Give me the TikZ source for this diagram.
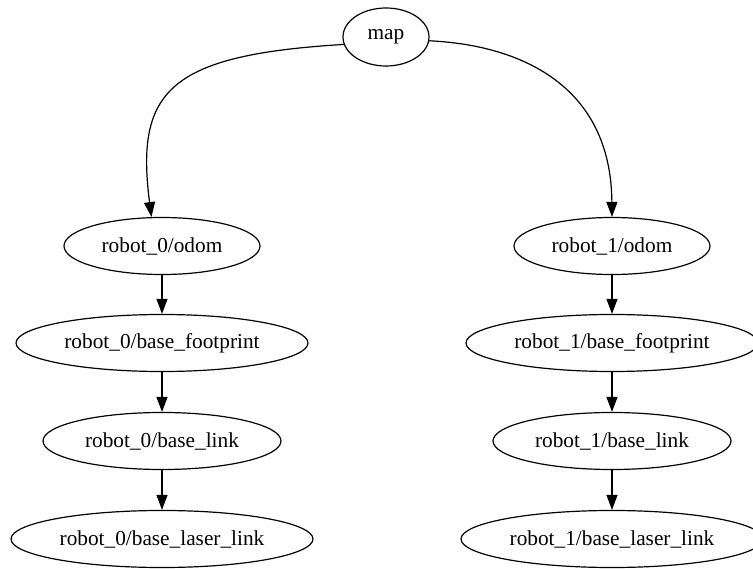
\documentclass[tikz,border=0pt]{standalone}
\usepackage{fontspec}
\setmainfont{Liberation Serif}
\usetikzlibrary{shapes.geometric,arrows.meta}
\begin{document}
\begin{tikzpicture}[x=1pt,y=1pt,
  frame/.style={ellipse,draw,line width=1.2pt,inner sep=0pt,minimum height=57pt,
    font=\fontsize{21.3}{24}\selectfont},
  link/.style={line width=1.2pt,-{Triangle[length=15pt,width=11pt]}}]
\useasboundingbox (0,0) rectangle (753,-569);
\node[frame,minimum width=86pt,minimum height=58pt] (map) at (386,-37) {map};
% left column
\node[frame,minimum width=196pt] (r0odom) at (162,-246) {robot\_0/odom};
\node[frame,minimum width=292pt] (r0fp) at (162,-343) {robot\_0/base\_footprint};
\node[frame,minimum width=238pt] (r0bl) at (162,-441) {robot\_0/base\_link};
\node[frame,minimum width=302pt] (r0ll) at (162,-539) {robot\_0/base\_laser\_link};
% right column
\node[frame,minimum width=196pt] (r1odom) at (612,-246) {robot\_1/odom};
\node[frame,minimum width=292pt] (r1fp) at (612,-343) {robot\_1/base\_footprint};
\node[frame,minimum width=238pt] (r1bl) at (612,-441) {robot\_1/base\_link};
\node[frame,minimum width=302pt] (r1ll) at (612,-539) {robot\_1/base\_laser\_link};
% edges
\draw[link] (map.190) .. controls (170,-55) and (135,-90) .. (r0odom.110);
\draw[link] (map.355) .. controls (520,-45) and (611,-85) .. (r1odom.north);
\draw[link] (r0odom) -- (r0fp);
\draw[link] (r0fp) -- (r0bl);
\draw[link] (r0bl) -- (r0ll);
\draw[link] (r1odom) -- (r1fp);
\draw[link] (r1fp) -- (r1bl);
\draw[link] (r1bl) -- (r1ll);
\end{tikzpicture}
\end{document}
